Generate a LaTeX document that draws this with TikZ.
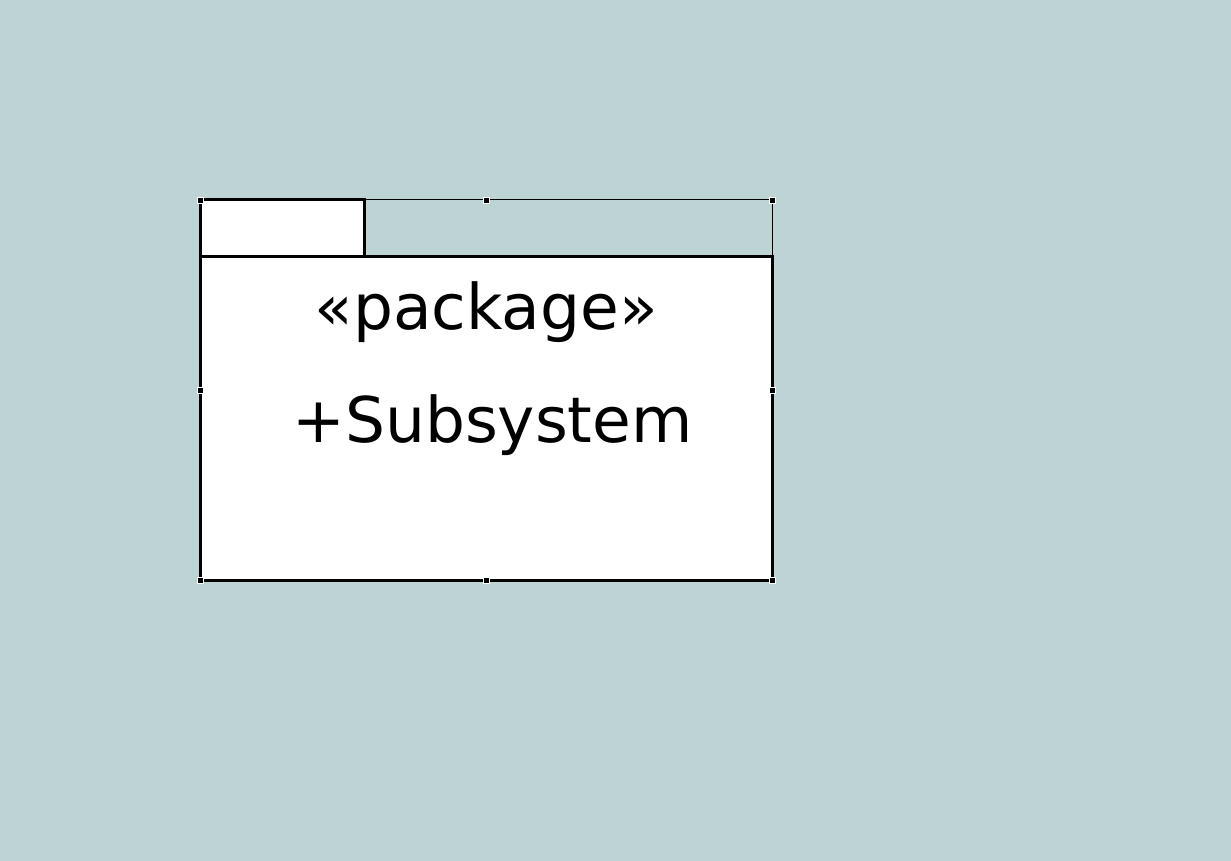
\documentclass[tikz,border=0pt]{standalone}
\usepackage{fontspec}
\setmainfont{DejaVu Sans}
\definecolor{canvas}{RGB}{190,211,211}
\tikzset{
	handle/.style={fill=black,draw=white,line width=0.8pt,minimum size=6pt,inner sep=0pt,rectangle},
	pkgtext/.style={font=\fontsize{63}{75}\selectfont,inner sep=0pt,anchor=base}
}
\begin{document}
\begin{tikzpicture}[x=1pt,y=-1pt,line width=3pt]
		\fill[color=canvas] (0,0) rectangle (1231,861);
		\useasboundingbox (0,0) rectangle (1231,861);
		\draw[line width=1pt] (364,200) -- (772,200) -- (772,256);
		\filldraw[fill=white] (200,200) rectangle (364,256);
		\filldraw[fill=white] (200,256) rectangle (772,580);
		\node[pkgtext] (stereo) at (486,329) {«package»};
		\node[pkgtext] (pkgname) at (492.5,442) {+Subsystem};
		\foreach \hx/\hy in {200/200,486/200,772/200,200/390,772/390,200/580,486/580,772/580}
			\node[handle] at (\hx,\hy) {};
	\end{tikzpicture}
\end{document}
